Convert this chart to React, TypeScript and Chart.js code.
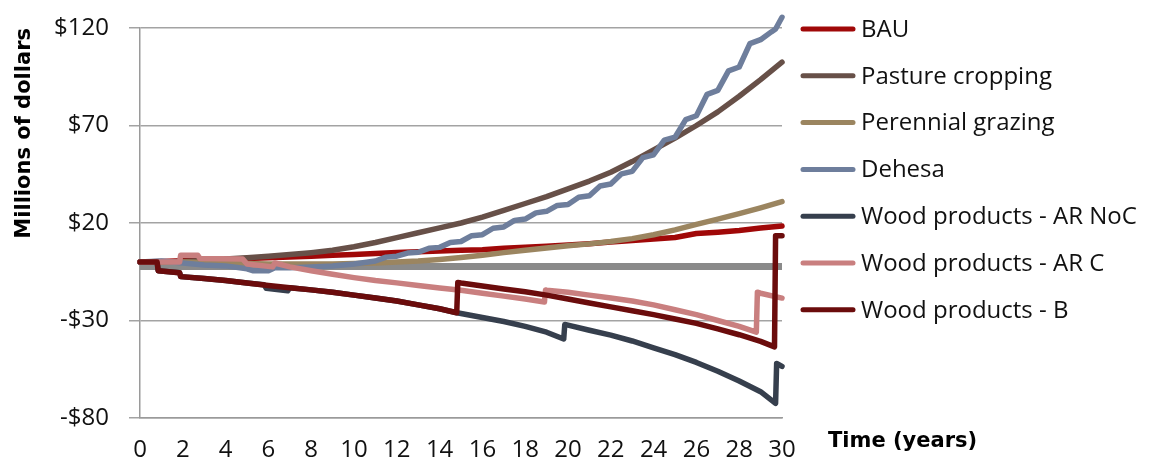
import React, { useEffect, useRef } from 'react';
import { Chart, registerables } from 'chart.js';

Chart.register(...registerables);

type Pt = [number, number];

const seriesNames = [
  'BAU',
  'Pasture cropping',
  'Perennial grazing',
  'Dehesa',
  'Wood products - AR NoC',
  'Wood products - AR C',
  'Wood products - B',
];

const seriesColors = ['#a00808', '#675048', '#9b8560', '#6e7e9c', '#363f4d', '#c97f7f', '#6b0c0c'];

const yTickValues = [-80, -30, 20, 70, 120];

const bau: Pt[] = [
  [0, 0], [1, 0.3], [2, 0.7], [3, 1], [4, 1.4], [5, 1.8], [6, 2.2], [7, 2.6], [8, 3], [9, 3.4], [10, 3.9],
  [11, 4.4], [12, 4.9], [13, 5.3], [14, 5.7], [15, 6], [16, 6.3], [17, 7], [18, 7.6], [19, 8.1], [20, 8.7],
  [21, 9.4], [22, 10.2], [23, 11], [24, 11.8], [25, 12.6], [26, 14.6], [27, 15.3], [28, 16.2], [29, 17.4], [30, 18.5],
];

const pastureCropping: Pt[] = [
  [0, 0], [1, 0], [2, 0.3], [3, 0.8], [4, 1.5], [5, 2.2], [6, 3], [7, 3.8], [8, 4.8], [9, 6], [10, 7.8],
  [11, 10], [12, 12.5], [13, 15], [14, 17.5], [15, 20], [16, 23], [17, 26.5], [18, 30], [19, 33.5], [20, 37.5],
  [21, 41.5], [22, 46], [23, 51.5], [24, 57.5], [25, 63.5], [26, 70], [27, 77], [28, 85], [29, 93.5], [30, 102.5],
];

const perennialGrazing: Pt[] = [
  [0, 0], [1, 0], [2, 0], [3, -0.3], [4, -0.5], [5, -0.8], [6, -1], [7, -1], [8, -1], [9, -1], [10, -0.8],
  [11, -0.5], [12, 0], [13, 0.5], [14, 1.3], [15, 2.3], [16, 3.5], [17, 4.8], [18, 6], [19, 7.2], [20, 8.3],
  [21, 9.3], [22, 10.5], [23, 12], [24, 14], [25, 16.5], [26, 19.3], [27, 22], [28, 24.8], [29, 27.8], [30, 31],
];

const dehesa: Pt[] = [
  [0, 0], [1, 0.5], [2, -0.5], [3, -1.5], [4, -2], [5, -3.5], [5.3, -4.5], [6, -4.5], [6.3, -3], [7, -3],
  [8, -2.5], [9, -2], [10, -1], [11, 0.5], [11.5, 2.5], [12, 3], [12.5, 4.6], [13, 5], [13.5, 7], [14, 7.5],
  [14.5, 10], [15, 10.5], [15.5, 13.5], [16, 14], [16.5, 17.3], [17, 18], [17.5, 21.3], [18, 22], [18.5, 25.2],
  [19, 26], [19.5, 29], [20, 29.5], [20.5, 33.2], [21, 34], [21.5, 39], [22, 40], [22.5, 45.2], [23, 46.5],
  [23.5, 53.5], [24, 55], [24.5, 62.5], [25, 64], [25.5, 73], [26, 75], [26.5, 86], [27, 88], [27.5, 98],
  [28, 100], [28.5, 112], [29, 114], [29.5, 118], [29.7, 119.5], [30, 125.5],
];

const woodArNoC: Pt[] = [
  [0, 0], [0.8, 0], [0.85, -4.5], [1.85, -5.5], [1.9, -7.5], [3, -8.5], [4, -9.5], [5, -10.8], [5.8, -11.7],
  [5.9, -13.5], [6.9, -14.8], [7, -13.2], [8, -14.3], [9, -15.5], [10, -17], [11, -18.5], [12, -20], [13, -22],
  [14, -24], [14.8, -26], [15, -26.4], [16, -28.5], [17, -30.5], [18, -33], [19, -36], [19.8, -39.5],
  [19.85, -32], [20, -32.4], [21, -35], [22, -37.5], [23, -40.5], [24, -44], [25, -47.5], [26, -51.5],
  [27, -56], [28, -61], [29, -66.5], [29.7, -72.5], [29.75, -52], [30, -53.5],
];

const woodArC: Pt[] = [
  [0, 0], [1.85, 0], [1.9, 3.5], [2.7, 3.5], [2.8, 1.8], [4.8, 1.5], [5, -1], [6.2, -2.5], [6.3, -0.5],
  [7, -2.5], [8, -4.5], [9, -6.3], [10, -8], [11, -9.5], [12, -10.7], [13, -12], [14, -13.3], [15, -14.5],
  [16, -16], [17, -17.5], [18, -19], [18.9, -20.5], [18.95, -14.3], [19, -14.5], [20, -15.5], [21, -17],
  [22, -18.5], [23, -20], [24, -22], [25, -24.5], [26, -27], [27, -30], [28, -33], [28.8, -36],
  [28.85, -15.5], [29, -16], [30, -18.5],
];

const woodB: Pt[] = [
  [0, 0], [0.8, 0], [0.85, -4.5], [1.85, -5.5], [1.9, -7.5], [3, -8.5], [4, -9.5], [5, -10.8], [6, -12],
  [7, -13.2], [8, -14.3], [9, -15.5], [10, -17], [11, -18.5], [12, -20], [13, -22], [14, -24], [14.8, -26],
  [14.85, -10.5], [15, -10.8], [16, -12.3], [17, -13.8], [18, -15.3], [19, -17], [20, -19], [21, -21],
  [22, -23], [23, -25], [24, -27], [25, -29.2], [26, -31.5], [27, -34.3], [28, -37.3], [29, -40.7],
  [29.65, -43.5], [29.7, 13.5], [30, 13.5],
];

const baseline: Pt[] = [[0, -2.3], [30, -2.3]];

const allSeries = [bau, pastureCropping, perennialGrazing, dehesa, woodArNoC, woodArC, woodB];

const TICK_FONT = '"Open Sans", "Noto Sans", sans-serif';
const TITLE_FONT = '"DejaVu Sans", Verdana, sans-serif';

const extrasPlugin = {
  id: 'extras',
  afterDraw(chart: any) {
    const ctx = chart.ctx as CanvasRenderingContext2D;
    const area = chart.chartArea;
    ctx.save();
    // x-axis title placed to the right of the plot, as in the original
    ctx.font = `bold 21px ${TITLE_FONT}`;
    ctx.fillStyle = '#000';
    ctx.textAlign = 'left';
    ctx.textBaseline = 'middle';
    ctx.fillText('Time (years)', area.right + 46, 442);

    // legend
    const x0 = area.right + 21;
    const rowTop = 29;
    const rowGap = 46.8;
    ctx.font = `24px ${TICK_FONT}`;
    seriesNames.forEach((name, i) => {
      const y = rowTop + i * rowGap;
      ctx.strokeStyle = seriesColors[i];
      ctx.lineWidth = 5;
      ctx.lineCap = 'round';
      ctx.beginPath();
      ctx.moveTo(x0, y);
      ctx.lineTo(x0 + 50, y);
      ctx.stroke();
      ctx.fillStyle = '#111';
      ctx.textAlign = 'left';
      ctx.textBaseline = 'middle';
      ctx.fillText(name, x0 + 58, y + 1);
    });
    ctx.restore();
  },
};

export default function App() {
  const canvasRef = useRef<HTMLCanvasElement | null>(null);

  useEffect(() => {
    const canvas = canvasRef.current;
    if (!canvas) return;

    const datasets: any[] = allSeries.map((s, i) => ({
      label: seriesNames[i],
      data: s.map(([x, y]) => ({ x, y })),
      borderColor: seriesColors[i],
      backgroundColor: seriesColors[i],
      borderWidth: 5.5,
      pointRadius: 0,
      tension: 0,
      borderJoinStyle: 'round',
      borderCapStyle: 'round',
      clip: false,
      order: 10 - i,
    }));
    datasets.push({
      label: 'baseline',
      data: baseline.map(([x, y]) => ({ x, y })),
      borderColor: '#8a8a8a',
      borderWidth: 7,
      pointRadius: 0,
      clip: false,
      order: 50,
    });

    const chart = new Chart(canvas, {
      type: 'line',
      data: { datasets },
      options: {
        animation: false,
        responsive: false,
        events: [],
        layout: { padding: { top: 28, right: 381, left: 0, bottom: 0 } },
        plugins: { legend: { display: false }, tooltip: { enabled: false } },
        scales: {
          x: {
            type: 'linear',
            min: 0,
            max: 30,
            ticks: {
              stepSize: 2,
              autoSkip: false,
              maxRotation: 0,
              padding: 18,
              color: '#111',
              font: { family: TICK_FONT, size: 24 },
            },
            grid: { display: false, drawTicks: false },
            border: { display: true, color: '#9a9a9a', width: 1.5 },
            afterFit: (s: any) => { s.height = 47; s.paddingLeft = 0; s.paddingRight = 0; },
          },
          y: {
            type: 'linear',
            min: -80,
            max: 120,
            afterBuildTicks: (s: any) => { s.ticks = yTickValues.map((v) => ({ value: v })); },
            ticks: {
              padding: 20,
              color: '#111',
              font: { family: TICK_FONT, size: 24 },
              callback: (v: any) => (v < 0 ? `-$${Math.abs(v)}` : `$${v}`),
            },
            grid: { color: '#a3a3a3', lineWidth: 1.5, tickLength: 11, drawTicks: true },
            border: { display: true, color: '#9a9a9a', width: 1.5 },
            title: {
              display: true,
              text: 'Millions of dollars',
              align: 'end',
              color: '#000',
              font: { family: TITLE_FONT, size: 21, weight: 'bold' },
              padding: { top: 12, bottom: 0 },
            },
            afterFit: (s: any) => { s.width = 140; s.paddingTop = 0; s.paddingBottom = 0; },
          },
        },
      },
      plugins: [extrasPlugin],
    });

    return () => chart.destroy();
  }, []);

  return (
    <div style={{ position: 'absolute', left: 0, top: 0, width: 1163, height: 465, background: '#fff' }}>
      <canvas ref={canvasRef} width={1163} height={465} />
    </div>
  );
}
